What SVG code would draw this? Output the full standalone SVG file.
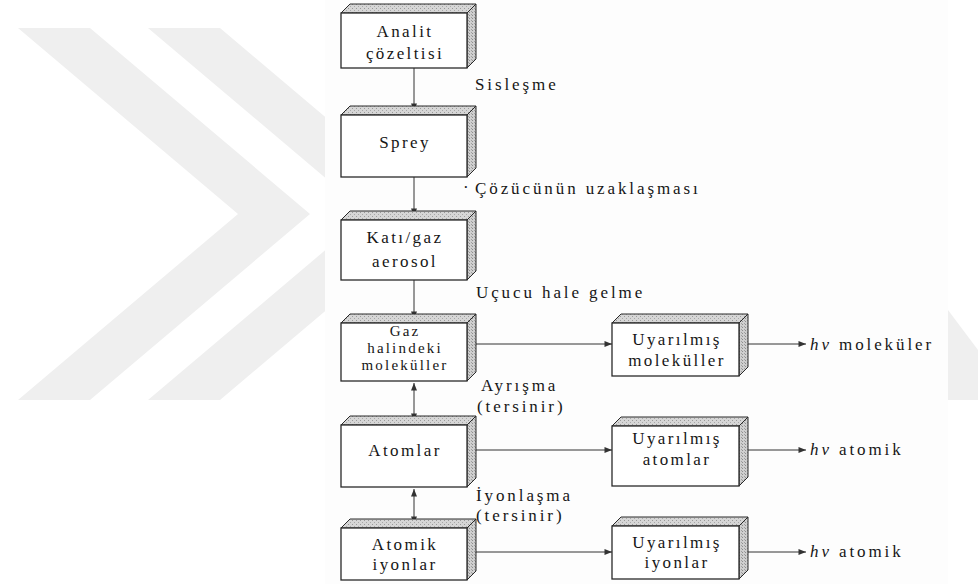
<svg xmlns="http://www.w3.org/2000/svg" width="978" height="584" viewBox="0 0 978 584">
<style>
.front{fill:#ffffff;stroke:#2a2a2a;stroke-width:1.3}
.top{fill:url(#stip);stroke:#2a2a2a;stroke-width:1}
.side{fill:url(#hatch);stroke:#2a2a2a;stroke-width:1}
.t{font-family:"Liberation Serif","DejaVu Serif","Noto Serif","Times New Roman",serif;font-size:17px;fill:#161616;letter-spacing:2.4px}
.l{letter-spacing:2.9px}
.s{font-size:15px;letter-spacing:2.2px}
.c{text-anchor:middle}
.ln{stroke:#333;stroke-width:1;fill:none}
.wm{fill:#efefef}
</style>
<defs>
<pattern id="stip" width="4" height="4" patternUnits="userSpaceOnUse">
<rect width="4" height="4" fill="#d6d6d6"/>
<rect x="0" y="0" width="1" height="1" fill="#9a9a9a"/>
<rect x="2" y="2" width="1" height="1" fill="#a8a8a8"/>
</pattern>
<pattern id="hatch" width="3" height="3" patternUnits="userSpaceOnUse">
<rect width="3" height="3" fill="#cfcfcf"/>
<rect x="1" y="0" width="1" height="1" fill="#8e8e8e"/>
<rect x="0" y="2" width="1" height="1" fill="#a0a0a0"/>
</pattern>
<marker id="ah" viewBox="0 0 10 8" refX="10" refY="4" markerWidth="9" markerHeight="6" markerUnits="userSpaceOnUse" orient="auto-start-reverse">
<path d="M0,0 L10,4 L0,8 z" fill="#333"/>
</marker>
</defs>
<rect width="978" height="584" fill="#ffffff"/>
<g id="watermark">
<polygon class="wm" points="18,28 90,28 310,214 90,400 18,400 238,214"/>
<polygon class="wm" points="148,28 220,28 440,214 220,400 148,400 368,214"/>
<polygon class="wm" points="948,310 978,350 978,400 948,400"/>
</g>
<rect x="325" y="0" width="623" height="584" fill="#fdfdfd"/>

<g id="connectors">
<line class="ln" x1="414" y1="68" x2="414" y2="111" marker-end="url(#ah)"/>
<line class="ln" x1="414" y1="177" x2="414" y2="216" marker-end="url(#ah)"/>
<line class="ln" x1="414" y1="280" x2="414" y2="319" marker-end="url(#ah)"/>
<line class="ln" x1="414" y1="383" x2="414" y2="421" marker-start="url(#ah)" marker-end="url(#ah)"/>
<line class="ln" x1="414" y1="489" x2="414" y2="524" marker-start="url(#ah)" marker-end="url(#ah)"/>
<line class="ln" x1="471" y1="344" x2="612" y2="344" marker-end="url(#ah)"/>
<line class="ln" x1="471" y1="450" x2="612" y2="450" marker-end="url(#ah)"/>
<line class="ln" x1="471" y1="552" x2="612" y2="552" marker-end="url(#ah)"/>
<line class="ln" x1="743" y1="344" x2="806" y2="344" marker-end="url(#ah)"/>
<line class="ln" x1="743" y1="450" x2="806" y2="450" marker-end="url(#ah)"/>
<line class="ln" x1="743" y1="552" x2="806" y2="552" marker-end="url(#ah)"/>
</g>

<g id="analit">
<polygon class="top" points="341,13 467,13 476,4 350,4"/>
<polygon class="side" points="467,13 476,4 476,59 467,68"/>
<rect class="front" x="341" y="13" width="126" height="55"/>
<text class="t c" x="405" y="37">Analit</text>
<text class="t c" x="405" y="59">çözeltisi</text>
</g>
<g id="sprey">
<polygon class="top" points="341,115 467,115 476,106 350,106"/>
<polygon class="side" points="467,115 476,106 476,168 467,177"/>
<rect class="front" x="341" y="115" width="126" height="62"/>
<text class="t c" x="405" y="148">Sprey</text>
</g>
<g id="aerosol">
<polygon class="top" points="341,220 467,220 476,211 350,211"/>
<polygon class="side" points="467,220 476,211 476,271 467,280"/>
<rect class="front" x="341" y="220" width="126" height="60"/>
<text class="t c" x="405" y="243">Katı/gaz</text>
<text class="t c" x="405" y="267">aerosol</text>
</g>
<g id="gaz">
<polygon class="top" points="341,323 467,323 476,314 350,314"/>
<polygon class="side" points="467,323 476,314 476,372 467,381"/>
<rect class="front" x="341" y="323" width="126" height="58"/>
<text class="t s c" x="405" y="336">Gaz</text>
<text class="t s c" x="405" y="353">halindeki</text>
<text class="t s c" x="405" y="370">moleküller</text>
</g>
<g id="atomlar">
<polygon class="top" points="341,425 467,425 476,416 350,416"/>
<polygon class="side" points="467,425 476,416 476,478 467,487"/>
<rect class="front" x="341" y="425" width="126" height="62"/>
<text class="t c" x="405" y="456">Atomlar</text>
</g>
<g id="iyonlar">
<polygon class="top" points="341,528 467,528 476,519 350,519"/>
<polygon class="side" points="467,528 476,519 476,571 467,580"/>
<rect class="front" x="341" y="528" width="126" height="52"/>
<text class="t c" x="405" y="550">Atomik</text>
<text class="t c" x="405" y="570">iyonlar</text>
</g>
<g id="uyar-molekul">
<polygon class="top" points="612,323 739,323 748,314 621,314"/>
<polygon class="side" points="739,323 748,314 748,367 739,376"/>
<rect class="front" x="612" y="323" width="127" height="53"/>
<text class="t c" x="677" y="345">Uyarılmış</text>
<text class="t c" x="677" y="366">moleküller</text>
</g>
<g id="uyar-atom">
<polygon class="top" points="612,426 739,426 748,417 621,417"/>
<polygon class="side" points="739,426 748,417 748,477 739,486"/>
<rect class="front" x="612" y="426" width="127" height="60"/>
<text class="t c" x="677" y="444">Uyarılmış</text>
<text class="t c" x="677" y="465">atomlar</text>
</g>
<g id="uyar-iyon">
<polygon class="top" points="612,526 739,526 748,517 621,517"/>
<polygon class="side" points="739,526 748,517 748,570 739,579"/>
<rect class="front" x="612" y="526" width="127" height="53"/>
<text class="t c" x="677" y="548">Uyarılmış</text>
<text class="t c" x="677" y="568">iyonlar</text>
</g>

<g id="labels">
<text class="t l" x="475" y="90">Sisleşme</text>
<text class="t" x="463" y="193">·</text>
<text class="t l" x="475" y="194">Çözücünün uzaklaşması</text>
<text class="t l" x="476" y="298">Uçucu hale gelme</text>
<text class="t l" x="481" y="391">Ayrışma</text>
<text class="t l" x="477" y="412">(tersinir)</text>
<text class="t l" x="476" y="501">İyonlaşma</text>
<text class="t l" x="476" y="521">(tersinir)</text>
<text class="t l" x="810" y="350"><tspan font-style="italic">hν</tspan> moleküler</text>
<text class="t l" x="810" y="455"><tspan font-style="italic">hν</tspan> atomik</text>
<text class="t l" x="810" y="557"><tspan font-style="italic">hν</tspan> atomik</text>
</g>
</svg>
